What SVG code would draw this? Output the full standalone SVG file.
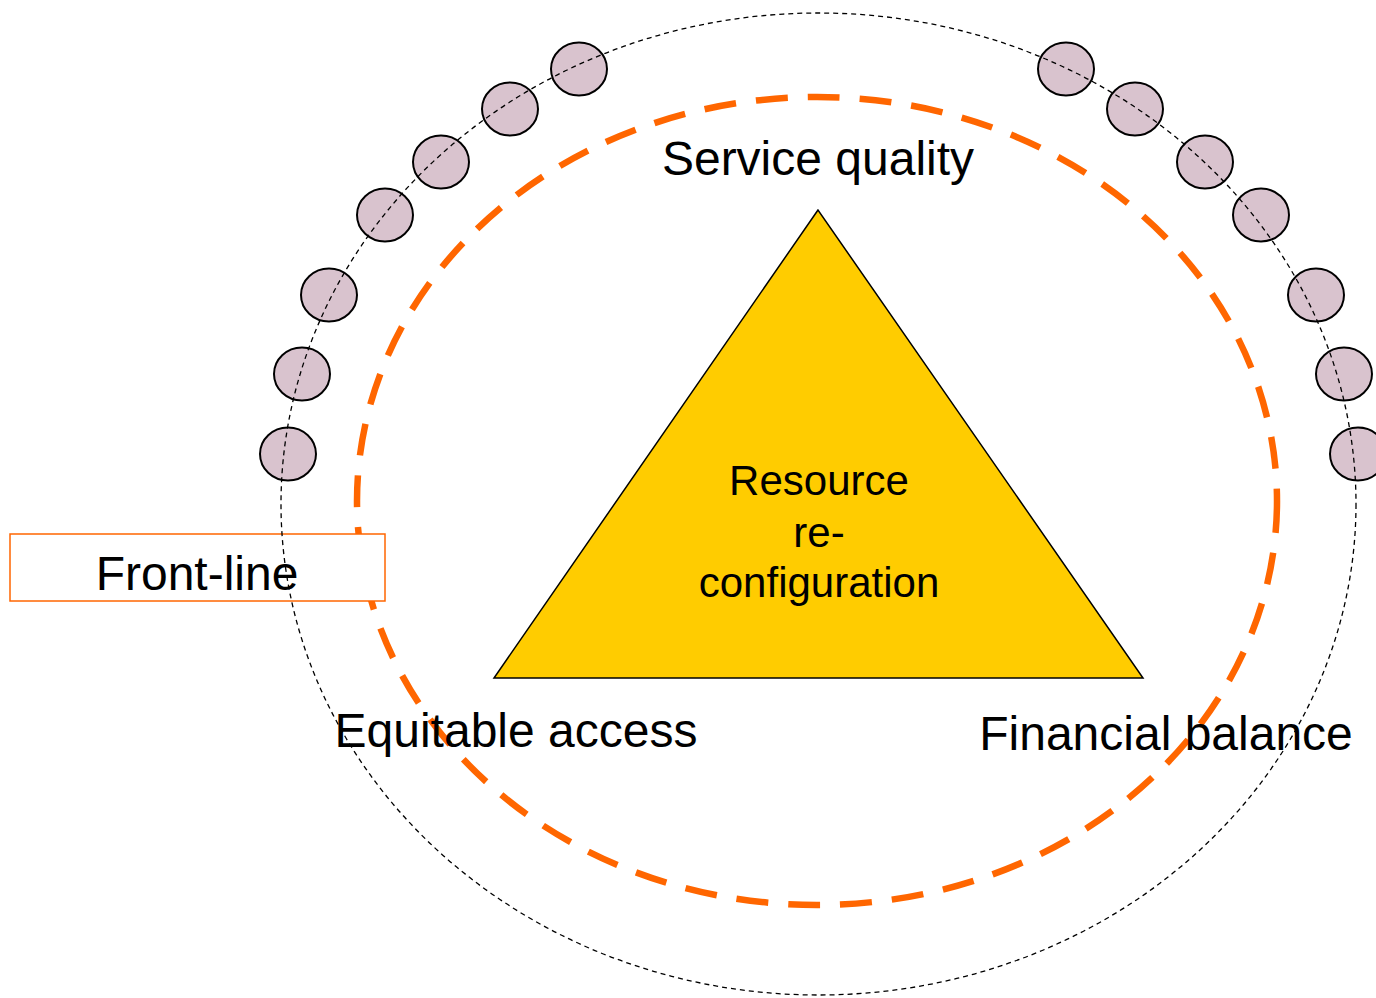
<svg xmlns="http://www.w3.org/2000/svg" width="1376" height="998" viewBox="0 0 1376 998">
<style>
.lbl{font-family:"Liberation Sans",Arial,sans-serif;fill:#000;text-anchor:middle}
.big{font-size:48px}
.mid{font-size:42px}
.bead{fill:#D9C3CE;stroke:#000;stroke-width:2}
</style>
<rect width="1376" height="998" fill="#fff"/>
<g id="orange-ring">
<ellipse cx="817" cy="501" rx="460" ry="404" fill="none" stroke="#FF6600" stroke-width="6.5" stroke-dasharray="32 20"/>
</g>
<g id="triangle">
<polygon points="818,210 494,678 1143,678" fill="#FFCC00" stroke="#000" stroke-width="1.5"/>
<text class="lbl mid" x="819" y="495">Resource</text>
<text class="lbl mid" x="819" y="547">re-</text>
<text class="lbl mid" x="819" y="597">configuration</text>
</g>
<g id="front-line">
<rect x="10" y="534" width="375" height="67" fill="#fff" stroke="#FF6600" stroke-width="1.5"/>
</g>
<g id="beads">
<ellipse class="bead" cx="579" cy="69" rx="28" ry="26.5"/>
<ellipse class="bead" cx="510" cy="109" rx="28" ry="26.5"/>
<ellipse class="bead" cx="441" cy="162" rx="28" ry="26.5"/>
<ellipse class="bead" cx="385" cy="215" rx="28" ry="26.5"/>
<ellipse class="bead" cx="329" cy="295" rx="28" ry="26.5"/>
<ellipse class="bead" cx="302" cy="374" rx="28" ry="26.5"/>
<ellipse class="bead" cx="288" cy="454" rx="28" ry="26.5"/>
<ellipse class="bead" cx="1066" cy="69" rx="28" ry="26.5"/>
<ellipse class="bead" cx="1135" cy="109" rx="28" ry="26.5"/>
<ellipse class="bead" cx="1205" cy="162" rx="28" ry="26.5"/>
<ellipse class="bead" cx="1261" cy="215" rx="28" ry="26.5"/>
<ellipse class="bead" cx="1316" cy="295" rx="28" ry="26.5"/>
<ellipse class="bead" cx="1344" cy="374" rx="28" ry="26.5"/>
<ellipse class="bead" cx="1358" cy="454" rx="28" ry="26.5"/>
</g>
<g id="connectors">
<ellipse cx="818.5" cy="504" rx="537.5" ry="491" fill="none" stroke="#000" stroke-width="1.3" stroke-dasharray="5 4"/>
</g>
<g id="labels">
<text class="lbl big" x="197" y="590">Front-line</text>
<text class="lbl big" x="818" y="175">Service quality</text>
<text class="lbl big" x="516" y="747">Equitable access</text>
<text class="lbl big" x="1166" y="750">Financial balance</text>
</g>
</svg>
